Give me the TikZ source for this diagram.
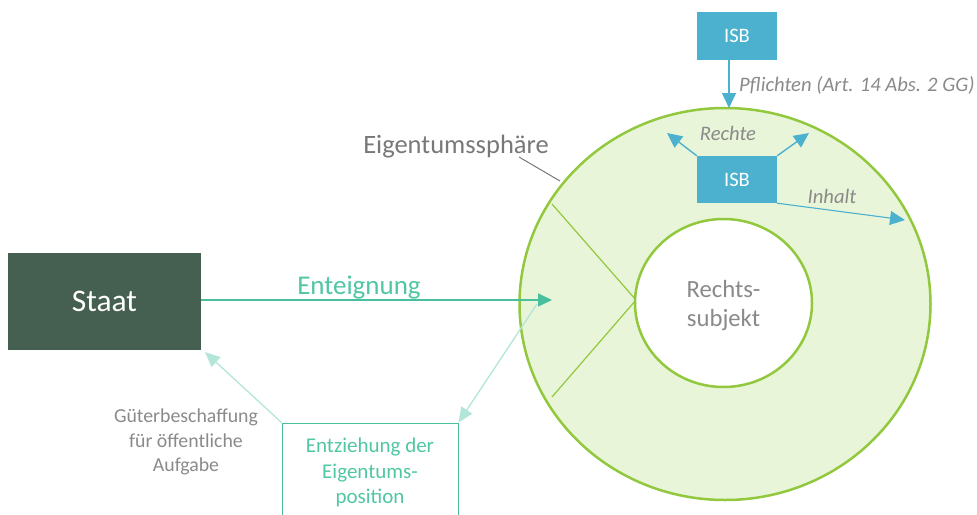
\documentclass[tikz,border=0pt]{standalone}
\usepackage{fontspec}
\setmainfont{Carlito}
\usetikzlibrary{arrows.meta,shapes.geometric}

\definecolor{staatgreen}{RGB}{69,95,80}
\definecolor{isbblue}{RGB}{76,177,207}
\definecolor{ringgreen}{RGB}{146,200,62}
\definecolor{ringfill}{RGB}{233,245,216}
\definecolor{tealline}{RGB}{72,192,158}
\definecolor{tealtext}{RGB}{80,198,162}
\definecolor{paleteal}{RGB}{178,230,216}
\definecolor{labelgray}{RGB}{138,138,138}
\definecolor{leadergray}{RGB}{120,120,120}

\begin{document}
\begin{tikzpicture}[x=1pt,y=-1pt,
  ring/.style={ellipse, draw=ringgreen, line width=2.5pt, inner sep=0pt},
  isbbox/.style={fill=isbblue, text=white, minimum width=80pt, inner sep=0pt,
    font=\fontsize{20.5}{24}\selectfont},
  bluearrow/.style={draw=isbblue, line width=1.4pt,
    -{Triangle[length=15pt,width=14pt]}, isbblue},
  palearrow/.style={draw=paleteal, line width=1.3pt,
    -{Triangle[length=15pt,width=13pt]}, paleteal},
  italiclabel/.style={text=labelgray, inner sep=0pt,
    font=\itshape\fontsize{20.6}{24}\selectfont},
  graylabel/.style={text=labelgray, inner sep=0pt, align=center},
]
\clip (0,0) rectangle (977,514);
\useasboundingbox (0,0) rectangle (977,514);

% property sphere (outer ring)
\node[ring, fill=ringfill, minimum width=411pt, minimum height=392pt]
  (sphere) at (725,304) {};

% wedge inside the sphere
\coordinate (wedgeTop) at (552,204);
\coordinate (wedgeApex) at (636,300);
\coordinate (wedgeBottom) at (552,397);
\draw[ringgreen, line width=1.2pt] (wedgeTop) -- (wedgeApex) -- (wedgeBottom);

% legal subject (inner circle)
\node[ring, fill=white, minimum width=177pt, minimum height=168pt]
  (subject) at (723.5,303) {};
\node[text=labelgray, align=center, inner sep=0pt,
  font=\fontsize{24.7}{29}\selectfont]
  (subjectLabel) at (723.5,306) {Rechts-\\subjekt};

% ISB boxes
\node[isbbox, minimum height=48pt] (isbTop) at (737,36) {ISB};
\node[isbbox, minimum height=47pt] (isbIn) at (737,179.5) {ISB};

% state
\node[fill=staatgreen, text=white, minimum width=193pt, minimum height=97pt,
  inner sep=0pt, font=\fontsize{31.5}{37}\selectfont]
  (staat) at (104.5,301.5) {Staat};

% withdrawal of the property position
\node[draw=tealline, line width=1pt, minimum width=176pt, minimum height=99pt,
  inner sep=0pt, text=tealtext, align=center,
  font=\fontsize{21}{25.5}\selectfont]
  (entz) at (370,472.5) {Entziehung der\\Eigentums-\\position};

% arrows of the ISB
\coordinate (dutyTip) at (729,108);
\coordinate (rightsLeft) at (667,133);
\coordinate (rightsRight) at (809,133);
\coordinate (contentTip) at (905,220);
\draw[bluearrow] (isbTop.south -| dutyTip) -- (dutyTip);
\draw[bluearrow] (isbIn.north west) -- (rightsLeft);
\draw[bluearrow] (isbIn.north east) -- (rightsRight);
\draw[bluearrow, line width=1.1pt] (isbIn.south east) -- (contentTip);

% expropriation
\coordinate (enteignTip) at (552,300);
\coordinate (withdrawStart) at (537,304);
\coordinate (staatTip) at (205,352);
\draw[palearrow] (withdrawStart) -- (entz.north east);
\draw[palearrow] (entz.north west) -- (staatTip);
\draw[draw=tealline, line width=1.6pt, -{Triangle[length=14pt,width=13pt]},
  tealline] (staat.east |- enteignTip) -- (enteignTip);

% leader line of the sphere label
\coordinate (leaderStart) at (519,157);
\coordinate (leaderEnd) at (560,181);
\draw[leadergray, line width=1pt] (leaderStart) -- (leaderEnd);

% labels
\node[anchor=base, text=tealtext, inner sep=0pt,
  font=\fontsize{27}{32}\selectfont] (enteignLabel) at (359,294) {Enteignung};
\node[anchor=base, text=leadergray, inner sep=0pt,
  font=\fontsize{26.5}{31}\selectfont] (sphereLabel) at (456,153) {Eigentumssphäre};
\node[italiclabel, anchor=base west] (dutyLabel) at (739,91)
  {Pflichten (Art. 14 Abs. 2 GG)};
\node[italiclabel, anchor=base] (rightsLabel) at (728,140) {Rechte};
\node[italiclabel, anchor=base] (contentLabel) at (832,203) {Inhalt};
\node[graylabel, font=\fontsize{19.8}{24.5}\selectfont] (procureLabel)
  at (186,442) {Güterbeschaffung\\für öffentliche\\Aufgabe};
\end{tikzpicture}
\end{document}
